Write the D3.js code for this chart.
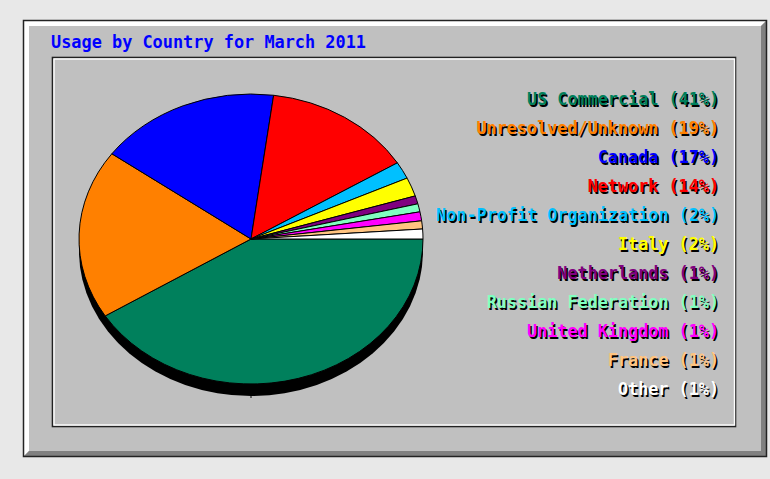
<!DOCTYPE html>
<html>
<head>
<meta charset="utf-8">
<script src="https://cdn.jsdelivr.net/npm/d3@7"></script>
<style>
  html, body { margin: 0; padding: 0; background: #e8e8e8; }
  svg { display: block; }
</style>
</head>
<body>
<div id="chart"></div>
<script>
// usage by country (percent of total)
const countries = ['US Commercial', 'Unresolved/Unknown', 'Canada', 'Network',
    'Non-Profit Organization', 'Italy', 'Netherlands', 'Russian Federation',
    'United Kingdom', 'France', 'Other'];
const shares = [41.1, 18.9, 17.1, 14.1, 1.9, 2.1, 0.9, 0.9, 1.0, 0.9, 1.1];
const sliceColors = ['#00805c', '#ff8000', '#0000ff', '#ff0000', '#00c0ff', '#ffff00',
    '#800080', '#80ffc0', '#ff00ff', '#ffc480', '#ffffff'];
const chartTitle = 'Usage by Country for March 2011';

const width = 770, height = 479;
const font = '"DejaVu Sans Mono", "Liberation Mono", monospace';

const svg = d3.select('#chart')
    .append('svg')
    .attr('width', width)
    .attr('height', height);

svg.append('rect')
    .attr('width', width).attr('height', height)
    .attr('fill', '#e8e8e8');

// outer raised panel
const ox0 = 23, oy0 = 20, ox1 = 767, oy1 = 457, bev = 6;
svg.append('rect')
    .attr('x', ox0).attr('y', oy0)
    .attr('width', ox1 - ox0).attr('height', oy1 - oy0)
    .attr('fill', '#c0c0c0');
svg.append('polygon')
    .attr('points', [[ox0, oy0], [ox1, oy0], [ox1 - bev, oy0 + bev], [ox0 + bev, oy0 + bev],
        [ox0 + bev, oy1 - bev], [ox0, oy1]].join(' '))
    .attr('fill', '#ffffff');
svg.append('polygon')
    .attr('points', [[ox1, oy0], [ox1, oy1], [ox0, oy1], [ox0 + bev, oy1 - bev],
        [ox1 - bev, oy1 - bev], [ox1 - bev, oy0 + bev]].join(' '))
    .attr('fill', '#808080');
svg.append('rect')
    .attr('x', ox0 + 0.5).attr('y', oy0 + 0.5)
    .attr('width', ox1 - ox0 - 1).attr('height', oy1 - oy0 - 1)
    .attr('fill', 'none')
    .attr('stroke', '#222')
    .attr('stroke-width', 1.5);

// inner sunken box
svg.append('rect')
    .attr('x', 52.5).attr('y', 57.5)
    .attr('width', 683).attr('height', 369)
    .attr('fill', 'none')
    .attr('stroke', '#222')
    .attr('stroke-width', 1.6);
svg.append('rect')
    .attr('x', 54).attr('y', 59)
    .attr('width', 680.5).attr('height', 366)
    .attr('fill', 'none')
    .attr('stroke', '#ffffff')
    .attr('stroke-width', 1.4);

svg.append('text')
    .attr('x', 51).attr('y', 48)
    .attr('font-family', font)
    .attr('font-weight', 'bold')
    .attr('font-size', 17)
    .attr('fill', '#0000ff')
    .attr('textLength', 315)
    .attr('lengthAdjust', 'spacingAndGlyphs')
    .text(chartTitle);

// pie, slices go clockwise from 3 o'clock
const cx = 251, cy = 239, rx = 172, ry = 145, depth = 12;
const data = countries.map((name, i) => ({name: name, value: shares[i], color: sliceColors[i]}));

const pie = d3.pie()
    .sort(null)
    .value(d => d.value)
    .startAngle(Math.PI / 2)
    .endAngle(Math.PI / 2 + 2 * Math.PI);
const arc = d3.arc().innerRadius(0).outerRadius(rx);

svg.append('ellipse')
    .attr('cx', cx).attr('cy', cy + depth)
    .attr('rx', rx).attr('ry', ry)
    .attr('fill', '#000');
svg.append('line')
    .attr('x1', cx).attr('x2', cx)
    .attr('y1', cy + ry - 4).attr('y2', cy + ry + depth + 2)
    .attr('stroke', '#000')
    .attr('stroke-width', 1);

const pieG = svg.append('g')
    .attr('transform', `translate(${cx},${cy}) scale(1,${ry / rx})`);
pieG.selectAll('.slice')
    .data(pie(data))
    .enter()
    .append('path')
    .attr('class', 'slice')
    .attr('d', arc)
    .attr('fill', d => d.data.color)
    .attr('stroke', '#000')
    .attr('stroke-width', 1)
    .attr('vector-effect', 'non-scaling-stroke');

// legend, right aligned with a dark drop shadow
const legendX = 719, legendY = d3.scalePoint().domain(countries).range([105, 395]);
const labels = svg.append('g')
    .attr('font-family', font)
    .attr('font-weight', 'bold')
    .attr('font-size', 16.8)
    .attr('text-anchor', 'end');
const total = d3.sum(shares);

labels.selectAll('.shadow')
    .data(data)
    .enter()
    .append('text')
    .attr('class', 'shadow')
    .attr('x', legendX + 1.5)
    .attr('y', d => legendY(d.name) + 1.5)
    .attr('fill', '#000')
    .text(d => `${d.name} (${Math.round(d.value / total * 100)}%)`);

labels.selectAll('.label')
    .data(data)
    .enter()
    .append('text')
    .attr('class', 'label')
    .attr('x', legendX)
    .attr('y', d => legendY(d.name))
    .attr('fill', d => d.color)
    .text(d => `${d.name} (${Math.round(d.value / total * 100)}%)`);
</script>
</body>
</html>
